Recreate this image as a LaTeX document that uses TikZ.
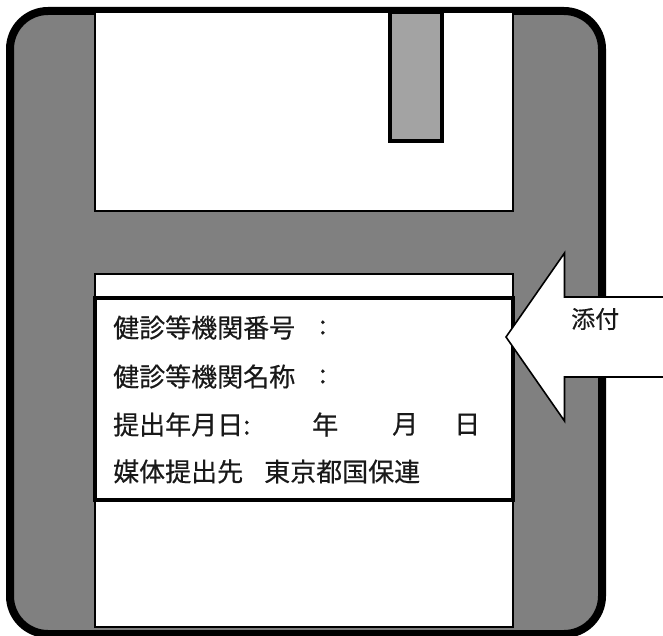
\documentclass[tikz,border=0pt]{standalone}
\usepackage{fontspec}
\newfontfamily\cjk[FakeBold=0.4]{Noto Sans CJK JP}
\tikzset{
  px/.style={x=1pt,y=-1pt},
  disk/.style={draw=black,fill=diskgray,line width=8pt,rounded corners=38pt},
  window/.style={draw=black,fill=white,line width=1.6pt},
  shutter/.style={draw=black,fill=shuttergray,line width=4pt},
  labelbox/.style={draw=black,fill=white,line width=3.5pt},
  callout/.style={draw=black,fill=white,line width=1.6pt,line join=miter},
  txt/.style={font=\cjk\fontsize{26}{30}\selectfont,text=black!90,anchor=west,inner sep=0pt},
  txtsmall/.style={font=\cjk\fontsize{24}{28}\selectfont,text=black!90,anchor=west,inner sep=0pt}
}
\definecolor{diskgray}{RGB}{128,128,128}
\definecolor{shuttergray}{RGB}{163,163,163}
\begin{document}
\begin{tikzpicture}[px]
\useasboundingbox (0,0) rectangle (663,636);
\fill[white] (0,0) rectangle (663,636);
\draw[disk] (10,11) rectangle (602,634);
\draw[window] (95,12) rectangle (513,211);
\draw[shutter] (390,12) rectangle (441.5,141);
\draw[window] (95,274) rectangle (513,627);
\draw[labelbox] (95,298) rectangle (513,500);
\draw[callout] (663,297) -- (564.5,297) -- (564.5,253) -- (506,337) -- (564.5,421) -- (564.5,377) -- (663,377);
\node[txt] (l1) at (113,327.5) {健診等機関番号};
\node[txt] (c1) at (319,327.5) {:};
\node[txt] (l2) at (113,376.5) {健診等機関名称};
\node[txt] (c2) at (319,376.5) {:};
\node[txt] (l3) at (113,424.5) {提出年月日:};
\node[txt] (y) at (312,424.5) {年};
\node[txt] (m) at (392,424.5) {月};
\node[txt] (d) at (454,424.5) {日};
\node[txt] (l4a) at (113,471.5) {媒体提出先};
\node[txt] (l4b) at (264,471.5) {東京都国保連};
\node[txtsmall] (att) at (571,319) {添付};
\end{tikzpicture}
\end{document}
